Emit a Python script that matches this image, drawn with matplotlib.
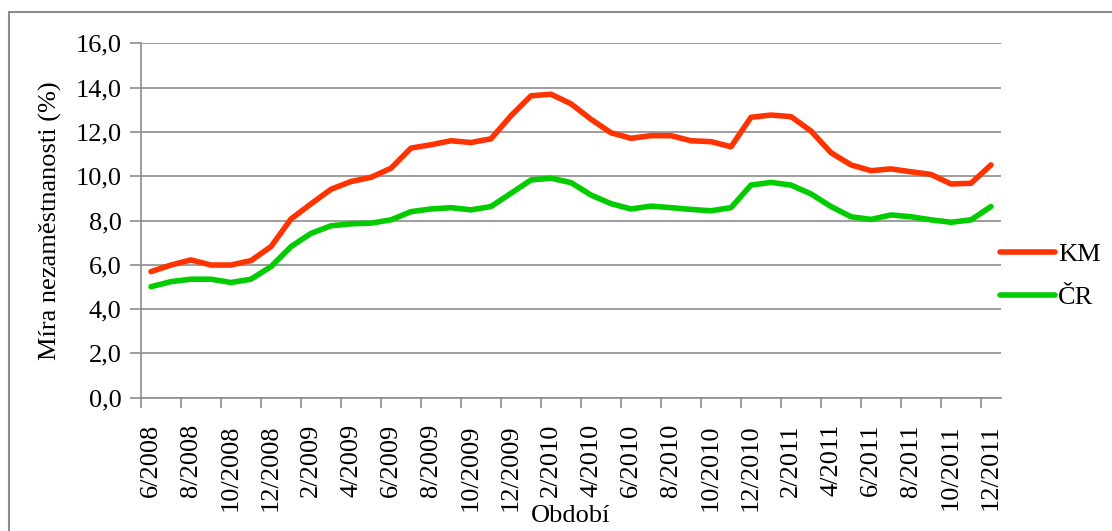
import numpy as np
import matplotlib
matplotlib.use("Agg")
import matplotlib.pyplot as plt
import matplotlib.ticker as mticker
from matplotlib.patches import Rectangle

# ── Data ───────────────────────────────────────────────────────
months = [f"{(5 + i) % 12 + 1}/{2008 + (5 + i) // 12}" for i in range(43)]

km = [5.69, 5.99, 6.22, 5.99, 5.99, 6.19, 6.82, 8.07, 8.75, 9.41,
      9.76, 9.95, 10.36, 11.27, 11.42, 11.60, 11.52, 11.69, 12.73, 13.63,
      13.70, 13.27, 12.57, 11.96, 11.71, 11.83, 11.83, 11.60, 11.56, 11.33,
      12.66, 12.76, 12.69, 12.04, 11.06, 10.51, 10.25, 10.33, 10.20, 10.08,
      9.65, 9.68, 10.51]

cr = [5.01, 5.24, 5.35, 5.35, 5.20, 5.35, 5.92, 6.82, 7.42, 7.76,
      7.85, 7.88, 8.03, 8.40, 8.52, 8.58, 8.48, 8.63, 9.23, 9.83,
      9.91, 9.71, 9.15, 8.76, 8.52, 8.65, 8.58, 8.50, 8.44, 8.58,
      9.60, 9.72, 9.60, 9.20, 8.63, 8.17, 8.05, 8.25, 8.17, 8.03,
      7.92, 8.03, 8.63]

series_names = ["KM", "ČR"]
series_colors = ["#ff3300", "#00cc00"]

# ── Style ──────────────────────────────────────────────────────
plt.rcParams.update({
    "font.family": ["Liberation Serif", "DejaVu Serif"],
    "font.size": 19,
})
GRID = "#8c8c8c"

W, H = 1112, 531
fig = plt.figure(figsize=(W / 100, H / 100), dpi=100)
ax = fig.add_axes([141 / W, 1 - 397.7 / H, (1001 - 141) / W, (397.7 - 43.3) / H])

# chart area border (cropped on right and bottom)
fig.patches.append(Rectangle((9 / W, -0.1), 1.2, 1.1 - 12 / H, transform=fig.transFigure,
                             fill=False, edgecolor=GRID, linewidth=1.5, zorder=0))

x = np.arange(len(months))
for vals, name, color in zip([km, cr], series_names, series_colors):
    ax.plot(x, vals, color=color, linewidth=4.0, label=name,
            solid_capstyle="round", solid_joinstyle="round", zorder=3)

ax.set_xlim(-0.5, len(months) - 0.5)
ax.set_ylim(0, 16)
ax.yaxis.set_major_locator(mticker.MultipleLocator(2))
ax.yaxis.set_major_formatter(mticker.FuncFormatter(lambda v, p: f"{v:.1f}".replace(".", ",")))
ax.grid(axis="y", color=GRID, linewidth=1.2)
ax.set_axisbelow(True)

# tick marks between categories, labels on every second category
ax.set_xticks(np.arange(-0.5, len(months) - 1, 2))
ax.set_xticklabels([])
ax.set_xticks(x[::2], minor=True)
ax.set_xticklabels(months[::2], minor=True, rotation=90)
ax.tick_params(axis="x", which="major", length=7, color=GRID, width=1.2)
ax.tick_params(axis="x", which="minor", length=0, pad=19)
ax.tick_params(axis="y", length=8, color=GRID, width=1.2, pad=6)

for s in ["top", "right"]:
    ax.spines[s].set_visible(False)
for s in ["left", "bottom"]:
    ax.spines[s].set_color(GRID)
    ax.spines[s].set_linewidth(1.2)

ax.set_ylabel("Míra nezaměstnanosti (%)", labelpad=10)
ax.set_xlabel("Období", labelpad=-4)

fig.legend(loc="upper left", bbox_to_anchor=(976 / W, 1 - 219 / H), frameon=False,
           handlelength=2.1, handletextpad=0.1, labelspacing=0.75)

plt.savefig("out.png", dpi=100, facecolor="white")
